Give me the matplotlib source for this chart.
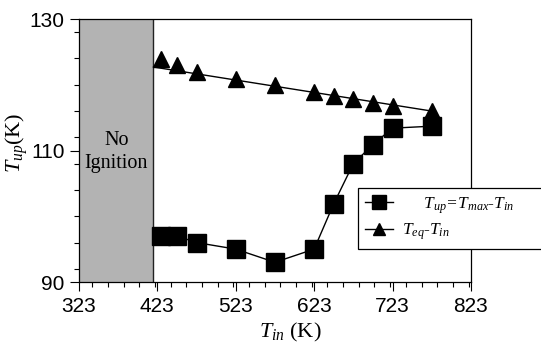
import matplotlib
matplotlib.use("Agg")
import matplotlib.pyplot as plt
from matplotlib.ticker import MultipleLocator

plt.rcParams['mathtext.fontset'] = 'custom'
plt.rcParams['mathtext.rm'] = 'Liberation Serif'
plt.rcParams['mathtext.it'] = 'Liberation Serif:italic'

## data
t_in = [428, 448, 473, 523, 573, 623, 648, 673, 698, 723, 773]
t_up = [97.0, 97.0, 96.0, 95.0, 93.0, 95.0, 101.9, 108.0, 110.9, 113.4, 113.7]
t_eq = [123.9, 123.0, 122.0, 120.9, 120.0, 118.9, 118.3, 117.8, 117.2, 116.8, 116.0]
trend_x = [418, 773]       # straight line drawn through the triangles
trend_y = [122.7, 116.0]
no_ign = [323, 418]         # shaded "No Ignition" band

fig = plt.figure(figsize=(5.41, 3.47), dpi=100)
ax = fig.add_axes([0.146, 0.1873, 0.7244, 0.7579])

ax.axvspan(no_ign[0], no_ign[1], facecolor='#b3b3b3', edgecolor='none', zorder=0)
ax.axvline(no_ign[1], color='#222222', lw=1, zorder=1)
ax.text((no_ign[0] + no_ign[1]) / 2, 109.8, "No\nIgnition", ha='center', va='center',
        family='Liberation Serif', fontsize=14.5, linespacing=1.25)

ax.plot(t_in, t_up, c='black', lw=1, marker='s', markersize=12.5,
        label=r"     $T_{up}$=$T_{max}$-$T_{in}$      ", zorder=3)
ax.plot(trend_x, trend_y, c='black', lw=1, zorder=2)
ax.plot(t_in, t_eq, c='black', lw=0, marker='^', markersize=11.5, zorder=3)
# legend handle for the triangle series (line + marker)
ax.plot([], [], c='black', lw=1, marker='^', markersize=11.5, label=r"$T_{eq}$-$T_{in}$")

ax.set_xlim(323, 823)
ax.set_ylim(90, 130)
ax.set_xticks([323, 423, 523, 623, 723, 823])
ax.set_yticks([90, 110, 130])
ax.xaxis.set_minor_locator(MultipleLocator(20))
ax.yaxis.set_minor_locator(MultipleLocator(4))
ax.tick_params(which='major', direction='out', length=6.5, width=0.8, pad=4,
               top=False, right=False, labelsize=15)
ax.tick_params(which='minor', direction='out', length=3.5, width=0.8, top=False, right=False)
for lab in ax.get_xticklabels() + ax.get_yticklabels():
    lab.set_family('Liberation Sans')
for s in ax.spines.values():
    s.set_linewidth(0.9)

ax.set_xlabel(r"$T_{in}$ (K)", family='Liberation Serif', fontsize=16)
ax.set_ylabel(r"$T_{up}$(K)", family='Liberation Serif', fontsize=16)
ax.xaxis.set_label_coords(0.538, -0.148)
ax.yaxis.set_label_coords(-0.125, 0.53)

leg = fig.legend(loc='upper left', bbox_to_anchor=(0.662, 0.458), frameon=True,
                 fancybox=False, edgecolor='black', framealpha=1,
                 prop={'family': 'Liberation Serif', 'style': 'italic', 'size': 12.5},
                 handlelength=1.6, markerscale=0.8, labelspacing=0.35,
                 borderpad=0.4, handletextpad=0.5, borderaxespad=0)
leg.get_frame().set_linewidth(0.9)

fig.savefig("out.png", dpi=100)
